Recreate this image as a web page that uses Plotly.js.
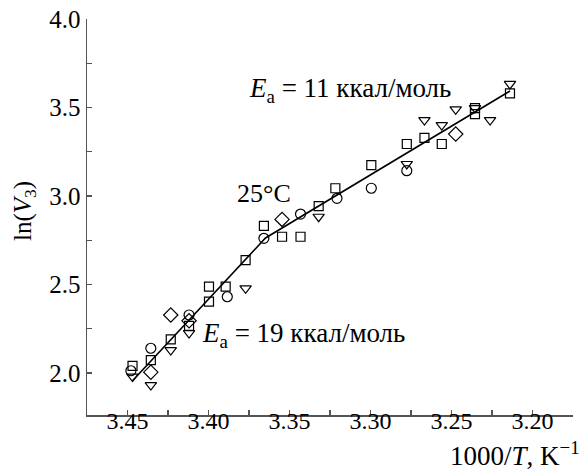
<!DOCTYPE html>
<html>
<head>
<meta charset="utf-8">
<script src="https://cdn.plot.ly/plotly-3.0.1.min.js"></script>
<style>html,body{margin:0;padding:0;background:#fff;}#chart{width:580px;height:472px;}</style>
</head>
<body>
<div id="chart"></div>
<script>
// Squares
const sqX = [3.3771, 3.3997, 3.3894, 3.3997, 3.4120, 3.4233, 3.4356, 3.4469, 3.2995, 3.3217, 3.3320, 3.3658, 3.3546, 3.3432, 3.2139, 3.2355, 3.2355, 3.2667, 3.2776, 3.2560];
const sqY = [2.638, 2.488, 2.488, 2.403, 2.266, 2.190, 2.073, 2.040, 3.175, 3.044, 2.943, 2.831, 2.770, 2.770, 3.580, 3.497, 3.463, 3.329, 3.294, 3.294];
// Circles
const ciX = [3.3884, 3.4120, 3.4356, 3.4479, 3.2995, 3.3207, 3.3432, 3.3658, 3.2776];
const ciY = [2.431, 2.328, 2.140, 2.013, 3.044, 2.987, 2.898, 2.761, 3.143];
// Diamonds
const diX = [3.4233, 3.4120, 3.4356, 3.3546, 3.2474];
const diY = [2.328, 2.295, 2.005, 2.868, 3.350];
// Down triangles
const trX = [3.3771, 3.4120, 3.4233, 3.4356, 3.4469, 3.3320, 3.2139, 3.2474, 3.2355, 3.2262, 3.2667, 3.2560, 3.2776];
const trY = [2.4785, 2.226, 2.130, 1.932, 1.980, 2.883, 3.633, 3.490, 3.497, 3.429, 3.429, 3.401, 3.181];
// Fitted broken line
const fitX = [3.4469, 3.3648, 3.2139];
const fitY = [1.9565, 2.763, 3.593];

const xTicks = [3.45, 3.40, 3.35, 3.30, 3.25, 3.20];
const xTickText = ['3.45', '3.40', '3.35', '3.30', '3.25', '3.20'];
const yTicks = [2.0, 2.5, 3.0, 3.5, 4.0];
const yTickText = ['2.0', '2.5', '3.0', '3.5', '4.0'];

const FONT = '"Liberation Serif", "Times New Roman", Times, "DejaVu Serif", serif';
const mk = (sym, size) => ({symbol: sym, size: size, color: '#000', line: {color: '#000', width: 1.2}});

const data = [
  {x: fitX, y: fitY, mode: 'lines', line: {color: '#000', width: 1.6}, hoverinfo: 'skip'},
  {x: sqX, y: sqY, mode: 'markers', marker: mk('square-open', 9)},
  {x: ciX, y: ciY, mode: 'markers', marker: mk('circle-open', 10)},
  {x: diX, y: diY, mode: 'markers', marker: mk('diamond-open', 11)},
  {x: trX, y: trY, mode: 'markers', marker: mk('triangle-down-open', 10)}
];

const axBase = {
  showgrid: false, zeroline: false, showline: true, linecolor: '#555', linewidth: 1.5,
  ticks: 'inside', ticklen: 5, tickwidth: 1.2, tickcolor: '#555',
  minor: {ticks: 'inside', ticklen: 5, tickwidth: 1.2, tickcolor: '#555'}
};

const layout = {
  width: 580, height: 472,
  margin: {l: 87, r: 7, t: 19, b: 57},
  paper_bgcolor: '#fff', plot_bgcolor: '#fff',
  showlegend: false,
  font: {family: FONT, color: '#000'},
  xaxis: Object.assign({}, axBase, {
    range: [3.475, 3.175], tickmode: 'array', tickvals: xTicks, ticktext: xTickText,
    tickfont: {family: FONT, size: 24, color: '#000'},
    ticklabelstandoff: -16,
    minor: Object.assign({}, axBase.minor, {dtick: 0.025, tick0: 3.175})
  }),
  yaxis: Object.assign({}, axBase, {
    range: [1.763, 4.0], tickmode: 'array', tickvals: yTicks, ticktext: yTickText,
    tickfont: {family: FONT, size: 25, color: '#000'},
    minor: Object.assign({}, axBase.minor, {dtick: 0.25, tick0: 2.0})
  }),
  annotations: [
    {x: 3.3763, y: 3.60, xref: 'x', yref: 'y', xanchor: 'left', yanchor: 'middle', showarrow: false,
     text: '<i>E</i><sub>а</sub> = 11 ккал/моль', font: {family: FONT, size: 27, color: '#000'}},
    {x: 3.3658, y: 3.015, xref: 'x', yref: 'y', xanchor: 'center', yanchor: 'middle', showarrow: false,
     text: '25°C', font: {family: FONT, size: 26, color: '#000'}},
    {x: 3.405, y: 2.215, xref: 'x', yref: 'y', xanchor: 'left', yanchor: 'middle', showarrow: false,
     text: '<i>E</i><sub>а</sub> = 19 ккал/моль', font: {family: FONT, size: 27, color: '#000'}},
    {x: 1, y: 0, xref: 'paper', yref: 'paper', xanchor: 'right', yanchor: 'middle', xshift: 9, yshift: -39, showarrow: false,
     text: '1000/<i>T</i>, K<sup>−1</sup>', font: {family: FONT, size: 27, color: '#000'}},
    {x: 0, y: 0.515, xref: 'paper', yref: 'paper', xanchor: 'center', yanchor: 'middle', xshift: -63, showarrow: false,
     textangle: -90, text: 'ln(<i>V</i><sub>3</sub>)', font: {family: FONT, size: 25, color: '#000'}}
  ]
};

Plotly.newPlot('chart', data, layout, {staticPlot: true, displayModeBar: false});
</script>
</body>
</html>
